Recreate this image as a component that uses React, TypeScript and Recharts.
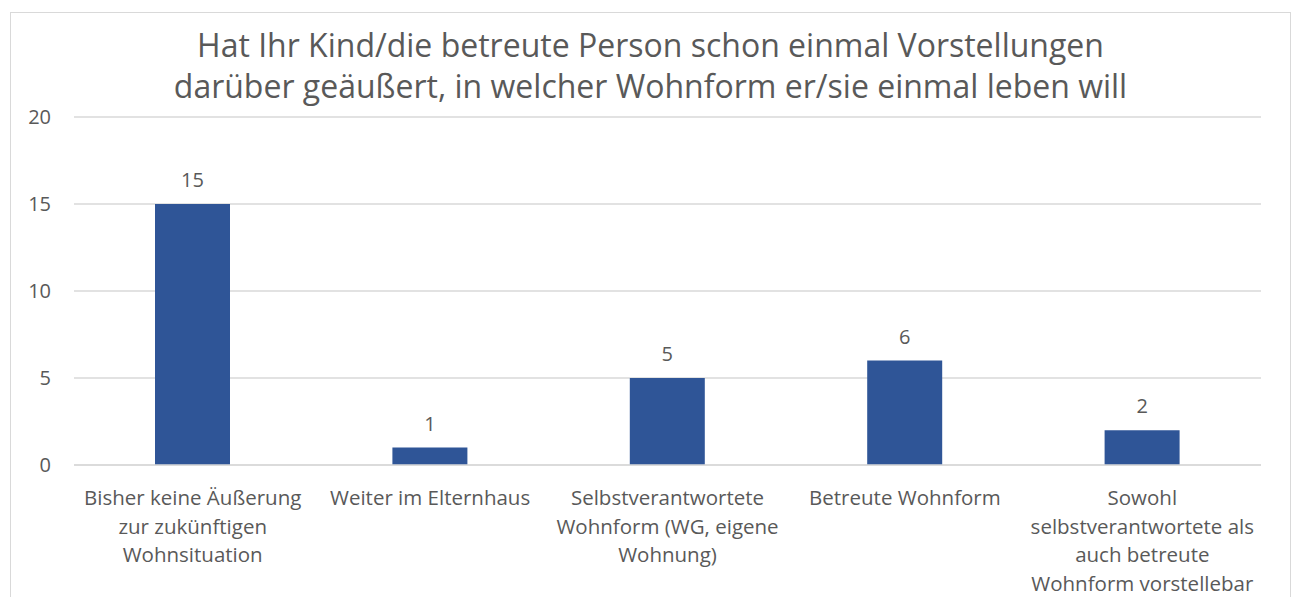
import { BarChart, Bar, XAxis, YAxis, CartesianGrid, LabelList } from "recharts";

const categories = [
  "Bisher keine Äußerung\nzur zukünftigen\nWohnsituation",
  "Weiter im Elternhaus",
  "Selbstverantwortete\nWohnform (WG, eigene\nWohnung)",
  "Betreute Wohnform",
  "Sowohl\nselbstverantwortete als\nauch betreute\nWohnform vorstellebar",
];
const counts = [15, 1, 5, 6, 2];
const yTicks = [0, 5, 10, 15, 20];
const titleLines = [
  "Hat Ihr Kind/die betreute Person schon einmal Vorstellungen",
  "darüber geäußert, in welcher Wohnform er/sie einmal leben will",
];

const data = categories.map((c, i) => ({ name: c, value: counts[i] }));

const FONT = "'Open Sans', sans-serif";
const TEXT = "#595959";

function CategoryTick(props: any) {
  const { x, y, payload } = props;
  const lines = String(payload.value).split("\n");
  return (
    <text textAnchor="middle" fill={TEXT} fontSize={20.5} fontFamily={FONT}>
      {lines.map((l: string, i: number) => (
        <tspan key={i} x={x} y={y + 38 + i * 28.5}>
          {l}
        </tspan>
      ))}
    </text>
  );
}

export default function App() {
  return (
    <div
      style={{
        position: "absolute",
        left: 10,
        top: 12,
        width: 1279,
        height: 600,
        border: "1px solid #d9d9d9",
        background: "#fff",
      }}
    >
      <div
        style={{
          position: "absolute",
          left: 0,
          right: 0,
          top: 11,
          textAlign: "center",
          fontFamily: FONT,
          fontSize: 32,
          lineHeight: "41px",
          color: TEXT,
        }}
      >
        {titleLines.map((t) => (
          <div key={t}>{t}</div>
        ))}
      </div>
      <BarChart
        width={1279}
        height={590}
        data={data}
        margin={{ top: 104, right: 29, bottom: 0, left: 0 }}
        barSize={75}
      >
        <CartesianGrid vertical={false} stroke="#d9d9d9" strokeWidth={1.5} />
        <XAxis
          dataKey="name"
          height={138}
          interval={0}
          axisLine={{ stroke: "#d9d9d9", strokeWidth: 1.5 }}
          tickLine={false}
          tickSize={0}
          tick={<CategoryTick />}
        />
        <YAxis
          width={63}
          domain={[0, 20]}
          ticks={yTicks}
          axisLine={false}
          tickLine={false}
          tickSize={0}
          tickMargin={23}
          tick={{ fill: TEXT, fontSize: 20, fontFamily: FONT }}
        />
        <Bar dataKey="value" fill="#2F5597" isAnimationActive={false}>
          <LabelList
            dataKey="value"
            position="top"
            offset={17}
            fill={TEXT}
            fontSize={20}
            fontFamily={FONT}
          />
        </Bar>
      </BarChart>
    </div>
  );
}
